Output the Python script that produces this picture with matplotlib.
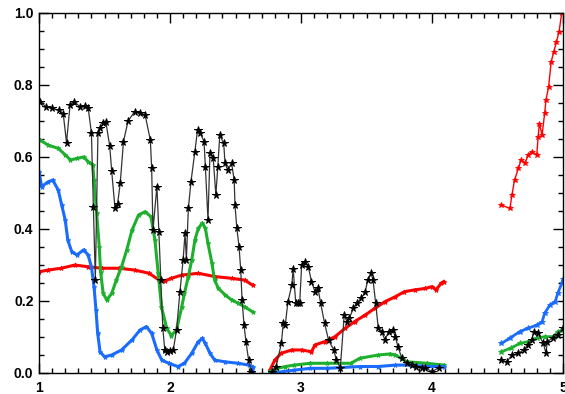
import numpy as np
import matplotlib
matplotlib.use("Agg")
import matplotlib.pyplot as plt
from matplotlib.ticker import MultipleLocator

nan = np.nan

# black curve (three pieces, separated by nan)
black_x = [1.01, 1.05, 1.10, 1.15, 1.185, 1.21, 1.237, 1.27, 1.31, 1.35, 1.376, 1.40, 1.415, 1.43,
           1.45, 1.466, 1.49, 1.51, 1.54, 1.555, 1.58, 1.60, 1.62, 1.645, 1.68, 1.73, 1.77, 1.81,
           1.85, 1.86, 1.87, 1.90, 1.915, 1.93, 1.945, 1.96, 1.98, 2.0, 2.025, 2.05, 2.076, 2.10,
           2.115, 2.125, 2.14, 2.16, 2.19, 2.21, 2.23, 2.26, 2.27, 2.29, 2.305, 2.33, 2.35, 2.365,
           2.38, 2.41, 2.42, 2.44, 2.47, 2.49, 2.496, 2.51, 2.527, 2.54, 2.55, 2.565, 2.58, 2.60, 2.62,
           nan,
           2.776, 2.81, 2.85, 2.865, 2.88, 2.90, 2.93, 2.94, 2.96, 2.98, 2.99, 3.005, 3.03, 3.056,
           3.08, 3.107, 3.13, 3.15, 3.18, 3.21, 3.25, 3.27, 3.30, 3.33, 3.35, 3.37, 3.40, 3.425,
           3.46, 3.49, 3.51, 3.535, 3.55, 3.57, 3.59, 3.616, 3.64, 3.67, 3.70, 3.72, 3.74, 3.77,
           3.81, 3.85, 3.88, 3.92, 3.95, 4.0, 4.05,
           nan,
           4.53, 4.57, 4.61, 4.66, 4.70, 4.73, 4.76, 4.78, 4.81, 4.85, 4.87, 4.88, 4.92, 4.96, 5.0]
black_y = [0.754, 0.74, 0.735, 0.73, 0.72, 0.64, 0.744, 0.754, 0.74, 0.742, 0.735, 0.667, 0.462, 0.258,
           0.667, 0.68, 0.694, 0.698, 0.63, 0.56, 0.458, 0.47, 0.527, 0.643, 0.70, 0.726, 0.722, 0.717,
           0.647, 0.569, 0.397, 0.518, 0.392, 0.258, 0.125, 0.064, 0.058, 0.06, 0.064, 0.12, 0.226, 0.314,
           0.389, 0.314, 0.457, 0.531, 0.615, 0.675, 0.667, 0.643, 0.573, 0.425, 0.61, 0.597, 0.494, 0.573,
           0.661, 0.638, 0.583, 0.564, 0.583, 0.536, 0.467, 0.403, 0.351, 0.286, 0.203, 0.133, 0.087, 0.036, 0.004,
           nan,
           0.004, 0.018, 0.082, 0.139, 0.133, 0.198, 0.244, 0.29, 0.194, 0.194, 0.194, 0.30, 0.309, 0.295,
           0.254, 0.226, 0.235, 0.194, 0.138, 0.092, 0.064, 0.036, 0.014, 0.161, 0.143, 0.153, 0.18, 0.194,
           0.207, 0.226, 0.258, 0.277, 0.258, 0.194, 0.124, 0.115, 0.092, 0.115, 0.12, 0.101, 0.073, 0.041,
           0.027, 0.022, 0.018, 0.015, 0.013, 0.004, 0.014,
           nan,
           0.036, 0.031, 0.05, 0.055, 0.064, 0.077, 0.092, 0.115, 0.11, 0.082, 0.055, 0.087, 0.097, 0.106, 0.124]

green_x = [1.008, 1.07, 1.147, 1.20, 1.24, 1.29, 1.34, 1.376, 1.41, 1.42, 1.44, 1.46, 1.47, 1.49,
           1.517, 1.555, 1.59, 1.63, 1.67, 1.71, 1.76, 1.81, 1.855, 1.885, 1.91, 1.935, 1.975, 2.01,
           2.05, 2.09, 2.11, 2.14, 2.166, 2.19, 2.216, 2.247, 2.27, 2.29, 2.32, 2.34, 2.37, 2.42, 2.47,
           2.52, 2.57, 2.63,
           nan,
           2.76, 2.82, 2.88, 2.95, 3.07, 3.20, 3.38, 3.45, 3.59, 3.68, 3.72, 3.81, 3.96, 4.09,
           nan,
           4.53, 4.60, 4.67, 4.73, 4.80, 4.86, 4.93, 4.96, 5.0]
green_y = [0.647, 0.633, 0.624, 0.606, 0.592, 0.596, 0.60, 0.587, 0.578, 0.536, 0.444, 0.351, 0.281, 0.221,
           0.203, 0.221, 0.258, 0.295, 0.342, 0.397, 0.439, 0.448, 0.434, 0.369, 0.277, 0.184, 0.124, 0.104,
           0.12, 0.184, 0.221, 0.268, 0.314, 0.369, 0.402, 0.416, 0.402, 0.36, 0.305, 0.258, 0.235, 0.217, 0.203,
           0.194, 0.184, 0.17,
           nan,
           0.004, 0.013, 0.018, 0.022, 0.027, 0.027, 0.027, 0.041, 0.05, 0.053, 0.05, 0.031, 0.027, 0.022,
           nan,
           0.059, 0.069, 0.082, 0.087, 0.097, 0.101, 0.101, 0.115, 0.119]

blue_x = [1.0, 1.02, 1.07, 1.105, 1.147, 1.173, 1.20, 1.22, 1.25, 1.29, 1.34, 1.375, 1.40, 1.42,
          1.435, 1.448, 1.466, 1.50, 1.555, 1.63, 1.71, 1.77, 1.82, 1.86, 1.90, 1.937, 1.99, 2.06,
          2.11, 2.166, 2.216, 2.247, 2.27, 2.305, 2.34, 2.42, 2.52, 2.60, 2.63, 2.635,
          nan,
          2.78, 2.95, 3.07, 3.20, 3.45, 3.59, 3.72, 3.84, 3.96, 4.09,
          nan,
          4.53, 4.595, 4.67, 4.73, 4.80, 4.84, 4.86, 4.90, 4.94, 4.96, 4.99, 5.0]
blue_y = [0.559, 0.518, 0.531, 0.536, 0.508, 0.467, 0.425, 0.369, 0.337, 0.328, 0.342, 0.328, 0.295, 0.24,
          0.175, 0.11, 0.059, 0.045, 0.05, 0.064, 0.092, 0.119, 0.129, 0.11, 0.064, 0.036, 0.027, 0.018,
          0.027, 0.055, 0.087, 0.096, 0.082, 0.055, 0.036, 0.031, 0.027, 0.022, 0.018, 0.0,
          nan,
          0.0, 0.008, 0.013, 0.013, 0.018, 0.018, 0.022, 0.022, 0.018, 0.018,
          nan,
          0.082, 0.097, 0.115, 0.124, 0.133, 0.142, 0.166, 0.189, 0.198, 0.221, 0.249, 0.26]

red_x = [1.0, 1.07, 1.17, 1.275, 1.376, 1.48, 1.61, 1.73, 1.84, 1.91, 1.96, 2.01, 2.09, 2.216,
         2.34, 2.47, 2.57, 2.63,
         nan,
         2.763, 2.80, 2.85, 2.93, 3.005, 3.08, 3.107, 3.18, 3.26, 3.336, 3.41, 3.49, 3.565, 3.64,
         3.72, 3.79, 3.87, 3.95, 4.0, 4.03, 4.07, 4.09,
         nan,
         4.527, 4.595, 4.61, 4.63, 4.66, 4.68, 4.71, 4.735, 4.76, 4.80, 4.81, 4.82, 4.84, 4.86,
         4.87, 4.89, 4.91, 4.93, 4.95, 4.97, 4.99]
red_y = [0.281, 0.286, 0.291, 0.30, 0.295, 0.291, 0.291, 0.286, 0.277, 0.26, 0.256, 0.263, 0.272, 0.277,
         0.268, 0.263, 0.258, 0.244,
         nan,
         0.008, 0.036, 0.055, 0.064, 0.064, 0.059, 0.078, 0.087, 0.101, 0.124, 0.143, 0.161, 0.18, 0.198,
         0.212, 0.226, 0.231, 0.235, 0.24, 0.231, 0.249, 0.254,
         nan,
         0.467, 0.457, 0.494, 0.536, 0.569, 0.592, 0.583, 0.606, 0.615, 0.606, 0.656, 0.693, 0.661, 0.721,
         0.758, 0.795, 0.865, 0.893, 0.92, 0.948, 1.0]

y_ticks = [0, 0.2, 0.4, 0.6, 0.8, 1.0]
y_labels = ['0.0', '0.2', '0.4', '0.6', '0.8', '1.0']
x_ticks = [1, 2, 3, 4, 5]
x_labels = ['1', '2', '3', '4', '5']

plt.rcParams['font.family'] = ['Liberation Sans', 'DejaVu Sans']

fig = plt.figure(figsize=(5.65, 3.94), dpi=100)
ax = fig.add_axes([39 / 565, 21 / 394, 524 / 565, 360 / 394])


def draw(xs, ys, color, last_lw):
    # last piece (x > 4.5) gets its own line width
    cut = max(i for i, v in enumerate(xs) if np.isnan(v))
    ax.plot(xs[:cut], ys[:cut], color=color, lw=2.2, marker='*', ms=3.5, mew=0.6)
    ax.plot(xs[cut + 1:], ys[cut + 1:], color=color, lw=last_lw, marker='*', ms=4, mew=0.6)


draw(red_x, red_y, '#ff0000', 1.0)
draw(green_x, green_y, '#1db02c', 2.0)
draw(blue_x, blue_y, '#1a6cff', 2.0)
ax.plot(black_x, black_y, color='#333333', lw=0.9, marker='*', ms=5.5, mew=0.7,
        mfc='black', mec='black')

ax.set_xlim(1, 5)
ax.set_ylim(0, 1.0)
ax.xaxis.set_minor_locator(MultipleLocator(0.1))
ax.yaxis.set_minor_locator(MultipleLocator(0.05))
ax.set_yticks(y_ticks)
ax.set_yticklabels(y_labels)
ax.set_xticks(x_ticks)
ax.set_xticklabels(x_labels)

ax.tick_params(which='both', direction='in', top=True, right=True, width=1, labelsize=10)
ax.tick_params(which='major', length=7)
ax.tick_params(which='minor', length=3.5)
ax.tick_params(axis='x', pad=6)
ax.tick_params(axis='y', pad=4)
for lab in ax.get_xticklabels() + ax.get_yticklabels():
    lab.set_fontweight('bold')
for s in ax.spines.values():
    s.set_linewidth(1)

fig.savefig('out.png', dpi=100)
